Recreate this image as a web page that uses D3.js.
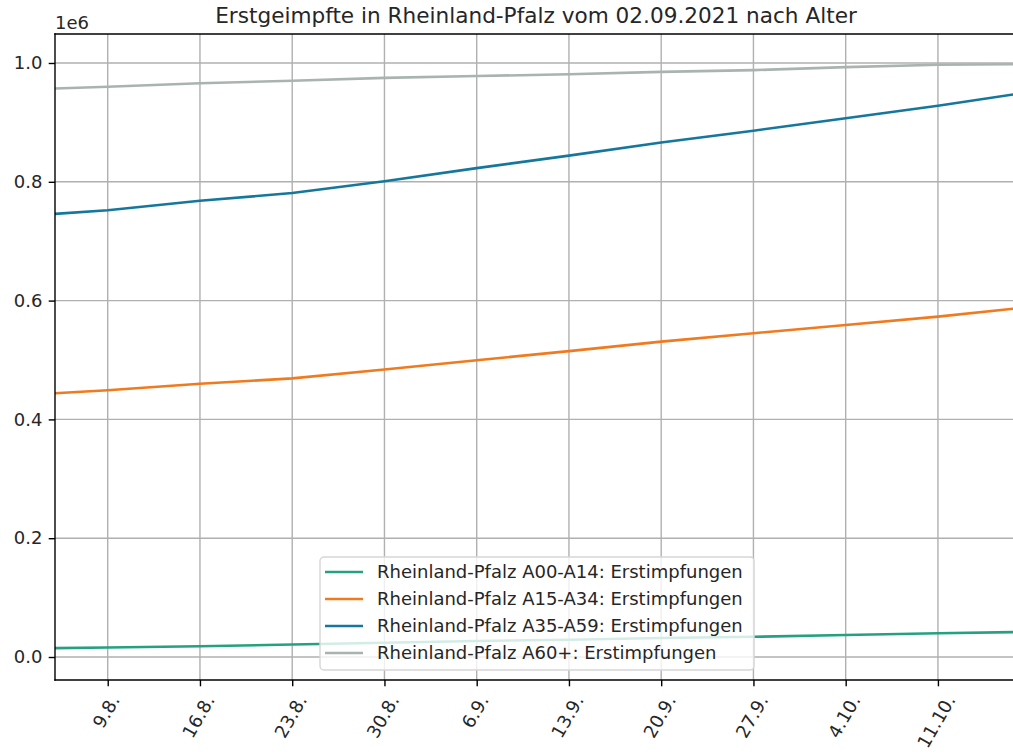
<!DOCTYPE html>
<html>
<head>
<meta charset="utf-8">
<script src="https://cdn.jsdelivr.net/npm/d3@7"></script>
<style>
  body { margin: 0; background: #fff; }
  text { font-family: "DejaVu Sans", sans-serif; fill: #262626; }
</style>
</head>
<body>
<script>
const width = 1013;
const height = 754;

// dates of the readings (2021)
const dates = ["2021-08-05","2021-08-09","2021-08-16","2021-08-23","2021-08-30","2021-09-06",
               "2021-09-13","2021-09-20","2021-09-27","2021-10-04","2021-10-11","2021-10-17"];

const seriesNames = [
    "Rheinland-Pfalz A00-A14: Erstimpfungen",
    "Rheinland-Pfalz A15-A34: Erstimpfungen",
    "Rheinland-Pfalz A35-A59: Erstimpfungen",
    "Rheinland-Pfalz A60+: Erstimpfungen"
];
const seriesColors = ["#25a17f", "#f17a1f", "#16779c", "#a9b4b1"];

const a00_a14 = [15000, 16000, 18000, 21000, 24000, 27000, 29000, 32000, 34000, 37000, 40000, 42000];
const a15_a34 = [444000, 449000, 460000, 469000, 484000, 499500, 515000, 531000, 545000, 559000, 573000, 587000];
const a35_a59 = [746000, 752000, 768000, 781000, 801000, 823000, 844000, 866000, 886000, 907000, 928000, 948000];
const a60plus = [957000, 960000, 966000, 970000, 975000, 978000, 981000, 985000, 988000, 993000, 997000, 998000];

const yTicks = [0, 200000, 400000, 600000, 800000, 1000000];
const xTickDates = ["2021-08-09","2021-08-16","2021-08-23","2021-08-30","2021-09-06",
                    "2021-09-13","2021-09-20","2021-09-27","2021-10-04","2021-10-11"];

const titleText = "Erstgeimpfte in Rheinland-Pfalz vom 02.09.2021 nach Alter";

const parse = d3.utcParse("%Y-%m-%d");
const allSeries = [a00_a14, a15_a34, a35_a59, a60plus];

const plot = {left: 55, right: 1017, top: 34, bottom: 680};
const fs = 18;          // 10pt at this resolution
const tickLen = 6.3;
const axisColor = "#000";

const x = d3.scaleUtc()
    .domain([parse("2021-08-05"), parse("2021-10-17")])
    .range([plot.left, plot.right]);

const y = d3.scaleLinear()
    .domain([-38700, 1048800])
    .range([plot.bottom, plot.top]);

const svg = d3.select("body")
    .append("svg")
    .attr("width", width)
    .attr("height", height);

svg.append("defs").append("clipPath")
    .attr("id", "plotclip")
    .append("rect")
    .attr("x", plot.left).attr("y", plot.top)
    .attr("width", plot.right - plot.left).attr("height", plot.bottom - plot.top);

// grid
const grid = svg.append("g").attr("class", "grid");
grid.selectAll(".gx")
    .data(xTickDates)
    .enter()
    .append("line")
    .attr("x1", d => x(parse(d))).attr("x2", d => x(parse(d)))
    .attr("y1", plot.top).attr("y2", plot.bottom)
    .attr("stroke", "#b0b0b0").attr("stroke-width", 1.4);
grid.selectAll(".gy")
    .data(yTicks)
    .enter()
    .append("line")
    .attr("x1", plot.left).attr("x2", plot.right)
    .attr("y1", d => y(d)).attr("y2", d => y(d))
    .attr("stroke", "#b0b0b0").attr("stroke-width", 1.4);

// lines
const line = d3.line()
    .x((d, i) => x(parse(dates[i])))
    .y(d => y(d));

svg.append("g")
    .attr("clip-path", "url(#plotclip)")
    .selectAll("path")
    .data(allSeries)
    .enter()
    .append("path")
    .attr("d", line)
    .attr("fill", "none")
    .attr("stroke", (d, i) => seriesColors[i])
    .attr("stroke-width", 2.6);

// axes
const yAxis = d3.axisLeft(y)
    .tickValues(yTicks)
    .tickSize(tickLen)
    .tickPadding(6.3)
    .tickFormat(d => d3.format(".1f")(d / 1e6));

const yg = svg.append("g")
    .attr("transform", `translate(${plot.left},0)`)
    .call(yAxis);
yg.select(".domain").remove();
yg.selectAll("line").attr("stroke", axisColor).attr("stroke-width", 1.4);
yg.selectAll("text")
    .style("font-family", "DejaVu Sans")
    .style("font-size", fs + "px")
    .attr("fill", "#262626");

const xAxis = d3.axisBottom(x)
    .tickValues(xTickDates.map(parse))
    .tickSize(tickLen)
    .tickFormat(d => d3.utcFormat("%-d.%-m.")(d));

const xg = svg.append("g")
    .attr("transform", `translate(0,${plot.bottom})`)
    .call(xAxis);
xg.select(".domain").remove();
xg.selectAll("line").attr("stroke", axisColor).attr("stroke-width", 1.4);
xg.selectAll("text")
    .style("font-family", "DejaVu Sans")
    .style("font-size", fs + "px")
    .attr("fill", "#262626")
    .attr("text-anchor", "middle")
    .attr("dy", "0.35em")
    .each(function() {
        const w = this.getComputedTextLength();
        const h = fs * 0.9;
        const a = Math.PI / 3;
        const bh = w * Math.sin(a) + h * Math.cos(a);
        const cy = 12.6 + bh / 2;
        d3.select(this)
            .attr("y", 0)
            .attr("transform", `translate(-2,${cy}) rotate(-60)`);
    });

// spines
const spines = [
    [plot.left, plot.top, plot.left, plot.bottom],
    [plot.left, plot.top, plot.right, plot.top],
    [plot.left, plot.bottom, plot.right, plot.bottom],
    [plot.right, plot.top, plot.right, plot.bottom]
];
svg.append("g")
    .selectAll("line")
    .data(spines)
    .enter()
    .append("line")
    .attr("x1", d => d[0]).attr("y1", d => d[1])
    .attr("x2", d => d[2]).attr("y2", d => d[3])
    .attr("stroke", axisColor).attr("stroke-width", 1.4)
    .attr("stroke-linecap", "square");

// offset text and title
svg.append("text")
    .attr("x", plot.left)
    .attr("y", 29)
    .style("font-size", fs + "px")
    .text("1e6");

svg.append("text")
    .attr("x", (plot.left + plot.right) / 2)
    .attr("y", 23)
    .attr("text-anchor", "middle")
    .style("font-size", "21.6px")
    .text(titleText);

// legend
const legend = svg.append("g").attr("class", "legend");
legend.append("rect")
    .attr("x", 320).attr("y", 557)
    .attr("width", 434).attr("height", 113)
    .attr("rx", 4)
    .attr("fill", "#fff").attr("fill-opacity", 0.8)
    .attr("stroke", "#d6d6d6").attr("stroke-width", 1.4);

const items = legend.selectAll(".item")
    .data(seriesNames)
    .enter()
    .append("g")
    .attr("transform", (d, i) => `translate(0,${572 + i * 27})`);
items.append("line")
    .attr("x1", 325).attr("x2", 363)
    .attr("y1", 0).attr("y2", 0)
    .attr("stroke", (d, i) => seriesColors[i])
    .attr("stroke-width", 2.6);
items.append("text")
    .attr("x", 377)
    .attr("y", 0)
    .attr("dy", "0.35em")
    .style("font-size", fs + "px")
    .text(d => d);
</script>
</body>
</html>
